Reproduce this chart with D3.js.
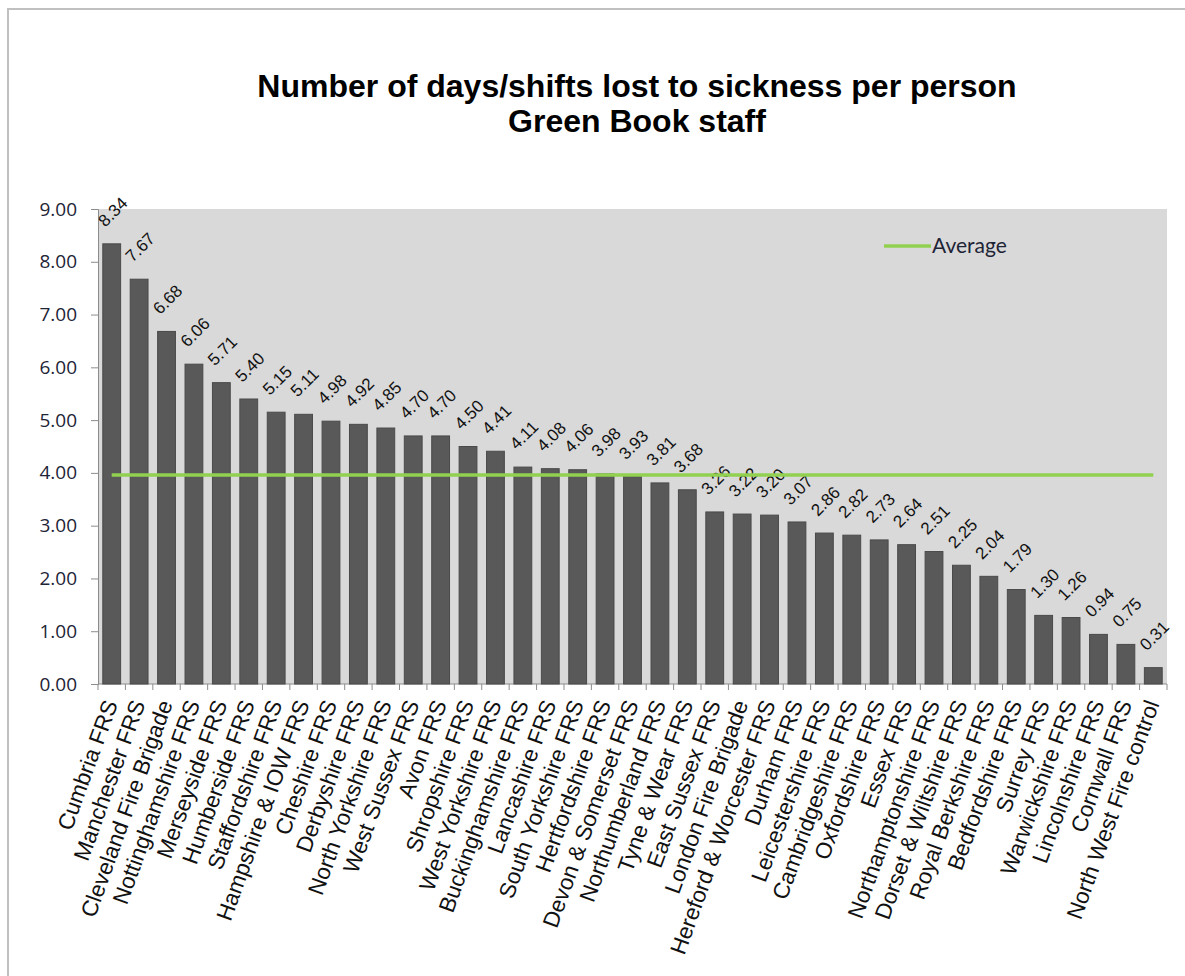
<!DOCTYPE html>
<html>
<head>
<meta charset="utf-8">
<script src="https://cdn.jsdelivr.net/npm/d3@7"></script>
<style>
  body { margin: 0; background: #fff; }
  svg { display: block; }
</style>
</head>
<body>
<div id="chart"></div>
<script>
const categories = [
  'Cumbria FRS', 'Manchester FRS', 'Cleveland Fire Brigade', 'Nottinghamshire FRS',
  'Merseyside FRS', 'Humberside FRS', 'Staffordshire FRS', 'Hampshire & IOW FRS',
  'Cheshire FRS', 'Derbyshire FRS', 'North Yorkshire FRS', 'West Sussex FRS',
  'Avon FRS', 'Shropshire FRS', 'West Yorkshire FRS', 'Buckinghamshire FRS',
  'Lancashire FRS', 'South Yorkshire FRS', 'Hertfordshire FRS', 'Devon & Somerset FRS',
  'Northumberland FRS', 'Tyne & Wear FRS', 'East Sussex FRS', 'London Fire Brigade',
  'Hereford & Worcester FRS', 'Durham FRS', 'Leicestershire FRS', 'Cambridgeshire FRS',
  'Oxfordshire FRS', 'Essex FRS', 'Northamptonshire FRS', 'Dorset & Wiltshire FRS',
  'Royal Berkshire FRS', 'Bedfordshire FRS', 'Surrey FRS', 'Warwickshire FRS',
  'Lincolnshire FRS', 'Cornwall FRS', 'North West Fire control'
];

const daysLost = [
  8.34, 7.67, 6.68, 6.06, 5.71, 5.40, 5.15, 5.11, 4.98, 4.92,
  4.85, 4.70, 4.70, 4.50, 4.41, 4.11, 4.08, 4.06, 3.98, 3.93,
  3.81, 3.68, 3.26, 3.22, 3.20, 3.07, 2.86, 2.82, 2.73, 2.64,
  2.51, 2.25, 2.04, 1.79, 1.30, 1.26, 0.94, 0.75, 0.31
];

// average shown as flat line across all categories
const average = 3.96;

const yTicks = [0, 1, 2, 3, 4, 5, 6, 7, 8, 9];

const titleLines = ['Number of days/shifts lost to sickness per person', 'Green Book staff'];

const W = 1185, H = 976;
const margin = { top: 209, right: 18, bottom: 292, left: 98 },
  width = W - margin.left - margin.right,
  height = H - margin.top - margin.bottom;

const svg = d3.select('#chart').
  append('svg').
  attr('width', W).
  attr('height', H);

// outer chart frame
svg.append('path').
  attr('d', 'M8,' + H + ' V9 H' + W).
  attr('fill', 'none').
  attr('stroke', '#c0c0c0').
  attr('stroke-width', 2);

svg.append('text').
  attr('x', 637).
  attr('y', 97).
  attr('text-anchor', 'middle').
  style('font-family', '"Liberation Sans", Arial, sans-serif').
  style('font-weight', 'bold').
  style('font-size', '32px').
  selectAll('tspan').
  data(titleLines).
  enter().append('tspan').
    attr('x', 637).
    attr('dy', function(d, i) { return i === 0 ? 0 : 35; }).
    text(function(d) { return d; });

const chart = svg.append('g').
  attr('transform', 'translate(' + margin.left + ',' + margin.top + ')');

const x = d3.scaleBand().domain(categories).range([0, width]).paddingInner(0.35).paddingOuter(0.175);
const y = d3.scaleLinear().domain([0, 9]).range([height, 0]);

chart.append('rect').
  attr('width', width).
  attr('height', height).
  attr('fill', '#d9d9d9');

// y axis
const yAxis = d3.axisLeft(y).tickValues(yTicks).tickFormat(d3.format('.2f')).tickSize(7).tickPadding(14);
const yg = chart.append('g').call(yAxis);
yg.selectAll('text').
  style('font-family', '"Open Sans", "Noto Sans", sans-serif').
  style('font-size', '19px').
  attr('fill', '#1d2436');
yg.selectAll('line, path').attr('stroke', '#8c8c8c');

// x axis, ticks on category boundaries
const bounds = d3.range(categories.length + 1).map(function(i) { return i * x.step(); });
const xg = chart.append('g').attr('transform', 'translate(0,' + height + ')');
xg.append('line').attr('x1', 0).attr('x2', width).attr('stroke', '#8c8c8c');
xg.selectAll('.tick').
  data(bounds).
  enter().append('line').
    attr('x1', function(d) { return d; }).
    attr('x2', function(d) { return d; }).
    attr('y1', 0).
    attr('y2', 6).
    attr('stroke', '#8c8c8c');

xg.selectAll('.cat').
  data(categories).
  enter().append('text').
    attr('class', 'cat').
    attr('transform', function(d) { return 'translate(' + (x(d) + x.bandwidth() / 2 - 1) + ',17) rotate(-70)'; }).
    attr('text-anchor', 'end').
    attr('dy', '0.35em').
    style('font-family', '"Liberation Sans", Arial, sans-serif').
    style('font-size', '22.5px').
    attr('fill', '#111').
    text(function(d) { return d; });

// bars
chart.selectAll('.bar').
  data(daysLost).
  enter().append('rect').
    attr('class', 'bar').
    attr('x', function(d, i) { return x(categories[i]); }).
    attr('y', function(d) { return y(d); }).
    attr('width', x.bandwidth()).
    attr('height', function(d) { return height - y(d); }).
    attr('fill', '#595959').
    attr('stroke', '#4a4a4a').
    attr('stroke-width', 1);

// value labels
chart.selectAll('.val').
  data(daysLost).
  enter().append('text').
    attr('class', 'val').
    attr('transform', function(d, i) { return 'translate(' + (x(categories[i]) + x.bandwidth() / 2 + 1) + ',' + (y(d) - 32) + ') rotate(-45)'; }).
    attr('text-anchor', 'middle').
    attr('dy', '0.35em').
    style('font-family', '"Liberation Sans", Arial, sans-serif').
    style('font-size', '17px').
    attr('fill', '#111').
    text(function(d) { return d.toFixed(2); });

// average line
const avgLine = d3.line().
  x(function(d) { return x(d) + x.bandwidth() / 2; }).
  y(function() { return y(average); });

chart.append('path').
  datum([categories[0], categories[categories.length - 1]]).
  attr('d', avgLine).
  attr('fill', 'none').
  attr('stroke', '#92d050').
  attr('stroke-width', 3.5);

// legend
const legend = chart.append('g').attr('transform', 'translate(786,37)');
legend.append('line').
  attr('x1', 0).attr('x2', 47).
  attr('stroke', '#92d050').
  attr('stroke-width', 3.5);
legend.append('text').
  attr('x', 48).
  attr('dy', '0.35em').
  style('font-family', 'Lato, "Open Sans", sans-serif').
  style('font-size', '21px').
  attr('fill', '#1d2436').
  text('Average');
</script>
</body>
</html>
